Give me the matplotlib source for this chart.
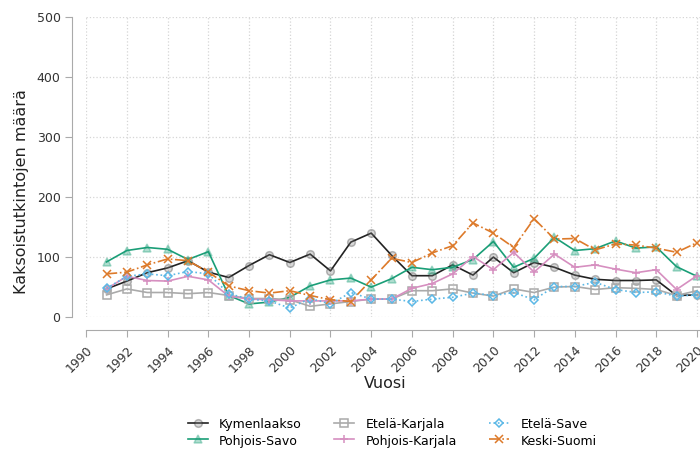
import numpy as np
from matplotlib import pyplot as plt

years = list(range(1991, 2021))

kymenlaakso = [46, 59, 73, 81, 93, 74, 65, 85, 103, 90,
               104, 76, 124, 139, 102, 68, 68, 86, 69, 99,
               73, 90, 82, 69, 62, 60, 60, 61, 35, 36]
etela_karjala = [36, 46, 40, 40, 38, 40, 35, 30, 30, 28,
                 17, 21, 25, 29, 29, 43, 43, 46, 39, 34,
                 46, 40, 49, 50, 45, 48, 47, 45, 35, 43]
etela_save = [47, 67, 71, 68, 75, 71, 38, 29, 26, 14,
              30, 21, 40, 29, 29, 25, 29, 32, 39, 35,
              40, 28, 50, 50, 57, 45, 40, 41, 34, 36]
pohjois_savo = [91, 110, 115, 112, 95, 108, 35, 21, 24, 32,
                51, 61, 64, 49, 63, 82, 78, 82, 95, 125,
                82, 97, 132, 110, 113, 126, 114, 116, 83, 67]
pohjois_karjala = [46, 67, 60, 59, 67, 61, 34, 29, 28, 26,
                   26, 26, 26, 29, 29, 47, 55, 71, 100, 78,
                   107, 74, 104, 82, 86, 79, 73, 78, 45, 68]
keski_suomi = [71, 74, 86, 96, 93, 74, 51, 43, 39, 43,
               35, 28, 25, 61, 97, 90, 106, 118, 156, 139,
               115, 163, 129, 130, 111, 121, 119, 114, 107, 123]

series = [
    ("Kymenlaakso", kymenlaakso, "#222222", "o", "-"),
    ("Pohjois-Savo", pohjois_savo, "#1a9e77", "^", "-"),
    ("Etelä-Karjala", etela_karjala, "#aaaaaa", "s", "-"),
    ("Pohjois-Karjala", pohjois_karjala, "#d68fc0", "+", "-"),
    ("Etelä-Save", etela_save, "#5cb8e6", "D", ":"),
    ("Keski-Suomi", keski_suomi, "#dd7a2a", "x", "-."),
]

fig = plt.figure(figsize=(7, 4.52), dpi=100)
ax = fig.add_axes([86.2 / 700, 1 - 317.5 / 452, 1 - 86.2 / 700, 300 / 452])

for name, vals, col, mk, ls in series:
    ms = 4.5 if mk == "D" else 5.5
    if mk == "o":
        fc = (0.5, 0.5, 0.5, 0.3)
    elif mk == "^":
        fc = (0.1, 0.62, 0.47, 0.35)
    else:
        fc = "none"
    ax.plot(years, vals, color=col, marker=mk, linestyle=ls, linewidth=1.2,
            markersize=ms, markerfacecolor=fc, markeredgewidth=1.1, label=name)

ax.set_xlim(1990, 2020.15)
ax.set_ylim(0, 500)
ax.set_xticks(range(1990, 2021, 2))
ax.set_yticks(range(0, 501, 100))
ax.grid(True, linestyle=":", color="#d5d5d5", linewidth=0.9)

for s in ["top", "right"]:
    ax.spines[s].set_visible(False)
ax.spines["left"].set_position(("outward", 10))
ax.spines["bottom"].set_position(("outward", 10))
for s in ["left", "bottom"]:
    ax.spines[s].set_color("#aaaaaa")
ax.tick_params(colors="#aaaaaa", labelcolor="#333333", labelsize=9, length=5)
plt.setp(ax.get_xticklabels(), rotation=45, ha="right", rotation_mode="anchor")

fig.text(22 / 700, 1 - 192 / 452, "Kaksoistutkintojen määrä", rotation=90,
         ha="center", va="center", fontsize=11.5, color="#222222")
fig.text(385 / 700, 1 - 383 / 452, "Vuosi", ha="center", va="center",
         fontsize=11.5, color="#222222")

fig.legend(loc="center", bbox_to_anchor=(392 / 700, 1 - 433 / 452), ncol=3,
           frameon=False, fontsize=9, handlelength=1.6, columnspacing=2.6,
           labelspacing=0.25, handletextpad=0.9)

fig.savefig("out.png", dpi=100)
